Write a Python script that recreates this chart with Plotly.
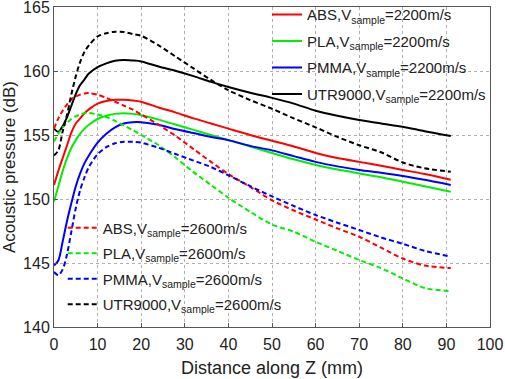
import plotly.graph_objects as go

x_mm = [0, 1, 2, 3, 4, 5, 6, 7, 8, 10, 12, 14, 16, 18, 20, 24, 28, 32, 36, 40,
        45, 50, 55, 60, 65, 70, 75, 80, 85, 91]

abs_2200 = [151.1, 152.2, 153.2, 154.2, 155.2, 155.9, 156.3, 156.7, 157.0, 157.45, 157.65, 157.75,
            157.75, 157.7, 157.6, 157.15, 156.75, 156.3, 155.9, 155.5, 155.0, 154.55, 154.1, 153.6,
            153.2, 152.9, 152.6, 152.27, 151.95, 151.5]
pla_2200 = [149.8, 151.0, 152.2, 153.2, 154.0, 154.6, 155.1, 155.5, 155.8, 156.25, 156.5, 156.65,
            156.7, 156.65, 156.55, 156.2, 155.8, 155.4, 155.0, 154.6, 154.1, 153.6, 153.1, 152.66,
            152.3, 152.0, 151.7, 151.35, 151.0, 150.57]
pmma_2200 = [144.8, 145.2, 146.7, 148.3, 149.7, 151.0, 152.0, 152.8, 153.4, 154.4, 155.1, 155.6,
             155.9, 156.0, 156.0, 155.8, 155.45, 155.15, 154.85, 154.6, 154.15, 153.8, 153.35, 152.9,
             152.55, 152.27, 152.05, 151.8, 151.5, 151.1]
utr_2200 = [155.5, 155.25, 155.7, 156.4, 157.3, 158.2, 158.9, 159.35, 159.8, 160.3, 160.6, 160.8,
            160.86, 160.82, 160.75, 160.35, 160.0, 159.6, 159.15, 158.75, 158.3, 157.9, 157.45, 156.9,
            156.5, 156.17, 155.9, 155.65, 155.3, 154.92]

abs_2600 = [155.5, 156.3, 156.9, 157.4, 157.8, 158.0, 158.15, 158.25, 158.27, 158.15, 157.9, 157.6,
            157.3, 157.0, 156.6, 155.8, 154.9, 153.9, 152.9, 151.95, 150.95, 149.9, 149.1, 148.4,
            147.7, 147.05, 146.2, 145.35, 144.8, 144.6]
pla_2600 = [154.5, 155.1, 155.6, 155.95, 156.25, 156.45, 156.6, 156.7, 156.72, 156.6, 156.4, 156.1,
            155.75, 155.4, 155.0, 154.2, 153.2, 152.1, 151.1, 150.1, 149.0, 148.0, 147.45, 146.66,
            145.95, 145.23, 144.6, 143.8, 143.05, 142.8]
pmma_2600 = [144.3, 144.05, 144.5, 145.7, 147.5, 149.3, 150.7, 151.7, 152.5, 153.5, 154.05, 154.35,
             154.47, 154.47, 154.4, 154.0, 153.5, 153.0, 152.5, 151.85, 151.0, 150.2, 149.45, 148.75,
             148.15, 147.58, 147.0, 146.5, 145.95, 145.5]
utr_2600 = [153.4, 153.8, 155.3, 156.6, 158.2, 159.6, 160.7, 161.5, 162.0, 162.7, 162.95, 163.07,
            163.05, 162.9, 162.75, 162.0, 161.1, 160.2, 159.3, 158.5, 157.73, 157.05, 156.3, 155.6,
            154.85, 154.2, 153.65, 152.85, 152.4, 152.13]

materials = ["ABS", "PLA", "PMMA", "UTR9000"]
colors = ["#FF0000", "#00EE00", "#0000FF", "#000000"]
series_2200 = [abs_2200, pla_2200, pmma_2200, utr_2200]
series_2600 = [abs_2600, pla_2600, pmma_2600, utr_2600]

x_ticks = list(range(0, 101, 10))
y_ticks = [140, 145, 150, 155, 160, 165]

fig = go.Figure()
for name, col, ys in zip(materials, colors, series_2200):
    fig.add_trace(go.Scatter(
        x=x_mm, y=ys, mode="lines",
        line=dict(color=col, width=2, shape="spline", smoothing=0.8),
        name=f"{name},V<sub>sample</sub>=2200m/s", legend="legend",
        legendgroup=f"{name}_2200"))
for name, col, ys in zip(materials, colors, series_2600):
    fig.add_trace(go.Scatter(
        x=x_mm, y=ys, mode="lines",
        line=dict(color=col, width=2, dash="5px,3px", shape="spline", smoothing=0.8),
        name=f"{name},V<sub>sample</sub>=2600m/s", legend="legend2",
        legendgroup=f"{name}_2600"))

axis_common = dict(
    showgrid=True, gridcolor="#b0b0b0", griddash="dot", gridwidth=1,
    showline=True, linecolor="#555555", linewidth=1, mirror=True,
    ticks="inside", ticklen=4, tickcolor="#555555",
    zeroline=False, automargin=False, ticklabeloverflow="allow",
    tickfont=dict(family="Liberation Sans, Arial", size=16, color="#222222"),
)

fig.update_layout(
    width=505, height=379,
    margin=dict(l=54, r=15, t=7, b=52, autoexpand=False),
    paper_bgcolor="white", plot_bgcolor="white",
    font=dict(family="Liberation Sans, Arial", size=15, color="#222222"),
    xaxis=dict(range=[0, 100], tickvals=x_ticks, ticklabelstandoff=3,
               title=dict(text="Distance along Z (mm)", standoff=9,
                          font=dict(size=18)),
               **axis_common),
    yaxis=dict(range=[140, 165], tickvals=y_ticks,
               title=dict(text="Acoustic pressure (dB)", standoff=4,
                          font=dict(size=17)),
               **axis_common),
    legend=dict(x=0.4886, y=1.027, xanchor="left", yanchor="top",
                bgcolor="rgba(0,0,0,0)", borderwidth=0,
                font=dict(size=15), itemwidth=30, tracegroupgap=4),
    legend2=dict(x=0.02, y=0.361, xanchor="left", yanchor="top",
                 bgcolor="rgba(0,0,0,0)", borderwidth=0,
                 font=dict(size=15), itemwidth=30, tracegroupgap=3),
    showlegend=True,
)

fig.write_html("out.html",
               config={"displayModeBar": False},
               post_script="document.body.style.margin='0';document.body.style.padding='0';")
